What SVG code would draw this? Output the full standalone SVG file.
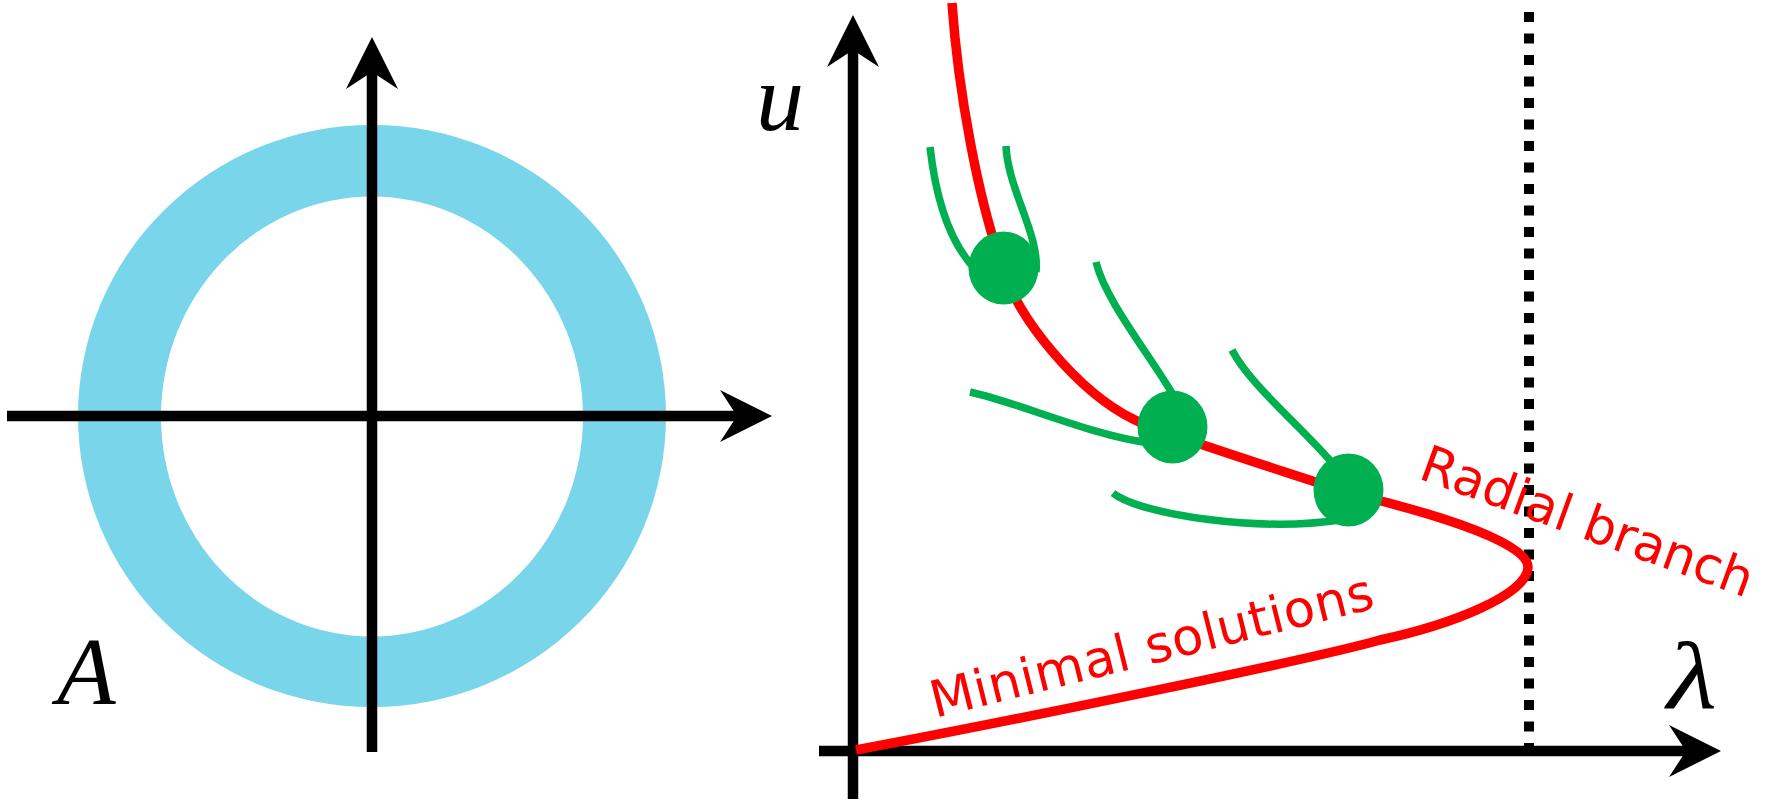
<svg xmlns="http://www.w3.org/2000/svg" width="1769" height="801" viewBox="0 0 1769 801">
  <style>
    .axis { stroke: #000; stroke-width: 10.5; fill: none; marker-end: url(#arrow); }
    .red { stroke: #ff0000; stroke-width: 9.5; fill: none; stroke-linecap: butt; stroke-linejoin: round; }
    .green { stroke: #00b050; stroke-width: 7.5; fill: none; stroke-linecap: butt; }
    .dot { fill: #00b050; }
    .math { font-family: "Liberation Serif", "DejaVu Serif", serif; font-style: italic; font-size: 96px; fill: #000; }
    .lbl { font-family: "DejaVu Sans", "Liberation Sans", sans-serif; font-size: 51px; fill: #ff0000; }
  </style>
  <defs>
    <marker id="arrow" markerUnits="userSpaceOnUse" viewBox="0 -26 52 52" markerWidth="52" markerHeight="52" refX="17" refY="0" orient="auto">
      <path d="M0,-26 L52,0 L0,26 L17,0 Z" fill="#000"/>
    </marker>
  </defs>

  <g id="annulus-plot">
    <path id="annulus" fill="#79d6ea" fill-rule="evenodd"
      d="M78,416 A294,291 0 1,0 666,416 A294,291 0 1,0 78,416 Z M161,416.5 A211,220 0 1,0 583,416.5 A211,220 0 1,0 161,416.5 Z"/>
    <line class="axis" x1="7" y1="416" x2="737" y2="416"/>
    <line class="axis" x1="372" y1="752" x2="372" y2="72"/>
    <text class="math" x="57" y="704">A</text>
  </g>

  <g id="bifurcation-plot">
    <line class="axis" x1="819" y1="751" x2="1686" y2="751"/>
    <line class="axis" x1="853" y1="799" x2="853" y2="50"/>
    <line id="asymptote" x1="1529" y1="12" x2="1529" y2="746" stroke="#000" stroke-width="10" stroke-dasharray="10 11.5"/>
    <text class="math" x="756" y="130">u</text>
    <text class="math" x="1667" y="708" transform="translate(1667 0) scale(1.2 1) translate(-1667 0)">λ</text>

    <g id="connectors">
      <path id="radial-branch" class="red"
        d="M952,3 C958,90 978,200 1003,268 C1015,315 1078,392 1133,419 C1160,433 1290,473 1349,493 C1420,510 1528,540 1528,567 C1528,595 1450,625 1380,640 C1310,660 1000,723 856,750"/>
      <path class="green" d="M930,147 C936,200 950,245 978,272"/>
      <path class="green" d="M1006,146 C1008,190 1040,235 1036,272"/>
      <path class="green" d="M1096,262 C1105,300 1150,355 1175,398"/>
      <path class="green" d="M970,392 C1020,403 1090,435 1150,443"/>
      <path class="green" d="M1232,350 C1250,385 1300,425 1335,466"/>
      <path class="green" d="M1113,493 C1140,515 1260,532 1340,520"/>
    </g>

    <g id="bifurcation-points">
      <ellipse id="bp1" class="dot" cx="1003.5" cy="268" rx="35" ry="36.5"/>
      <ellipse id="bp2" class="dot" cx="1172.5" cy="427" rx="35" ry="36.5"/>
      <ellipse id="bp3" class="dot" cx="1348.5" cy="490" rx="35" ry="36.5"/>
    </g>

    <text class="lbl" x="1417" y="478" transform="rotate(20 1417 478)" textLength="350" lengthAdjust="spacing">Radial branch</text>
    <text class="lbl" x="935" y="718" transform="rotate(-14 935 718)" textLength="455" lengthAdjust="spacing">Minimal solutions</text>
  </g>
</svg>
